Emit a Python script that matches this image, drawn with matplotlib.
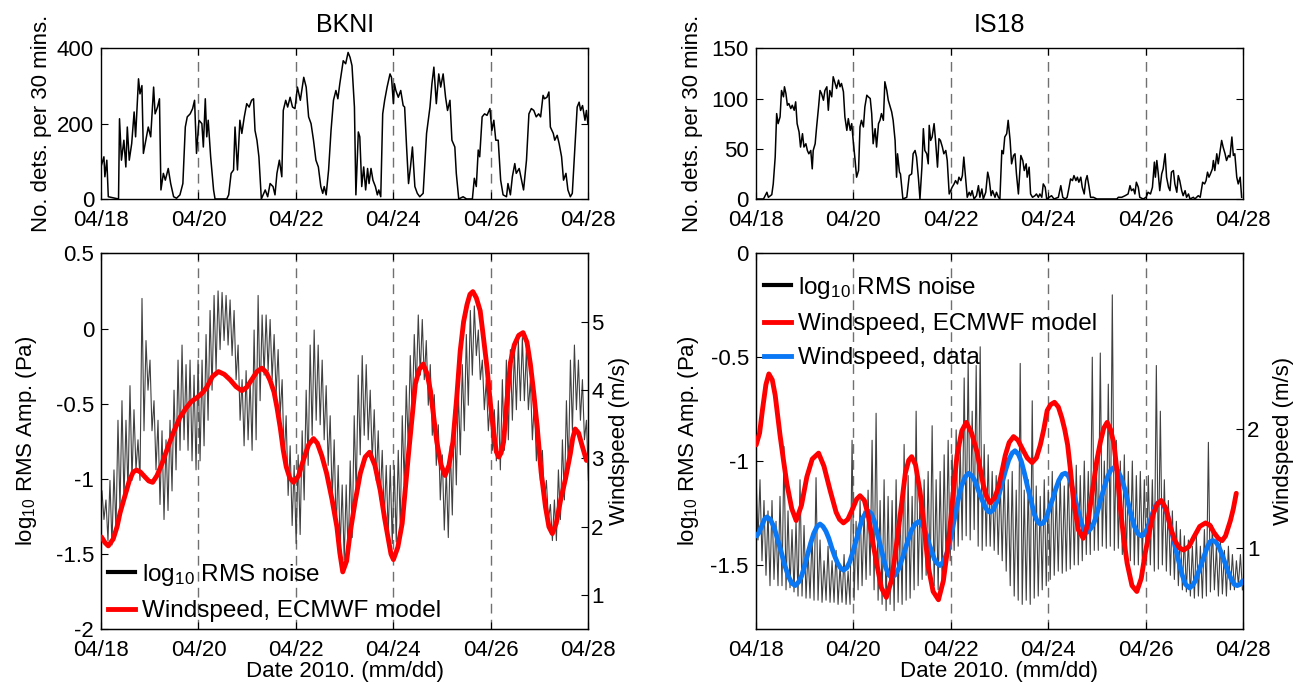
import numpy as np
import matplotlib
matplotlib.use('Agg')
import matplotlib.pyplot as plt
from matplotlib.lines import Line2D

plt.rcParams['font.family'] = ['Liberation Sans', 'DejaVu Sans']
plt.rcParams['axes.unicode_minus'] = False
plt.rcParams['font.size'] = 16
plt.rcParams['mathtext.default'] = 'regular'

# ---------------- axis categories ----------------
date_ticks = [0, 2, 4, 6, 8, 10]          # days since 2010-04-18
date_labels = ['04/18', '04/20', '04/22', '04/24', '04/26', '04/28']
dashed_days = [2, 4, 6, 8]
titles = ['BKNI', 'IS18']

# ---------------- BKNI detections per 30 min (days, count) ----------------
bk_det_t = [0.01, 0.06, 0.08, 0.12, 0.15, 0.36, 0.38, 0.42, 0.47, 0.51, 0.54, 0.58, 0.63, 0.68, 0.71,
            0.77, 0.80, 0.84, 0.87, 0.92, 0.97, 1.02, 1.08, 1.11, 1.16, 1.20, 1.23, 1.28, 1.32, 1.38,
            1.43, 1.49, 1.55, 1.62, 1.68, 1.73, 1.77, 1.83, 1.88, 1.92, 1.96, 2.01, 2.07, 2.10, 2.14,
            2.17, 2.20, 2.25, 2.31, 2.34, 2.58, 2.62, 2.67, 2.72, 2.75, 2.80, 2.85, 2.89, 2.94, 2.99,
            3.04, 3.09, 3.13, 3.16, 3.20, 3.24, 3.29, 3.37, 3.42, 3.47, 3.53, 3.57, 3.61, 3.66, 3.71,
            3.74, 3.79, 3.83, 3.88, 3.93, 3.98, 4.03, 4.09, 4.16, 4.21, 4.26, 4.31, 4.36, 4.41, 4.46,
            4.51, 4.55, 4.58, 4.62, 4.67, 4.72, 4.77, 4.82, 4.86,
            4.90, 4.97, 5.02, 5.07, 5.11, 5.15, 5.20, 5.23, 5.28, 5.31, 5.35, 5.39, 5.43, 5.47, 5.50,
            5.54, 5.58, 5.63, 5.67, 5.70, 5.74, 5.78, 5.82, 5.87, 5.93, 5.96, 6.00, 6.02, 6.05, 6.10,
            6.15, 6.20, 6.23, 6.27, 6.31, 6.35, 6.39, 6.44, 6.49, 6.54, 6.61, 6.68, 6.75, 6.79, 6.83,
            6.88, 6.93, 6.97, 7.02, 7.07, 7.11, 7.16, 7.20, 7.26, 7.29, 7.34, 7.43, 7.50, 7.62, 7.66,
            7.70, 7.74, 7.77, 7.82, 7.87, 7.92, 7.98, 8.02, 8.06, 8.10, 8.15, 8.20, 8.25, 8.32, 8.35,
            8.40, 8.44, 8.49, 8.52, 8.58, 8.63, 8.67, 8.73, 8.78, 8.83, 8.88, 8.93, 8.98, 9.02, 9.07,
            9.10, 9.15, 9.19, 9.22, 9.28, 9.31, 9.36, 9.40, 9.45, 9.49, 9.54, 9.58, 9.63, 9.67, 9.72,
            9.77, 9.81, 9.84, 9.88, 9.93, 9.96, 9.99]
bk_det_n = [90, 112, 59, 103, 6, 0, 213, 103, 156, 85, 191, 103, 147, 231, 165,
            319, 279, 301, 121, 156, 191, 165, 297, 226, 244, 266, 24, 68, 50, 81,
            41, 6, 2, 11, 41, 191, 218, 226, 240, 262, 121, 209, 200, 138, 266,
            165, 209, 112, 24, 0, 0, 11, 68, 77, 191, 77, 209, 174, 218, 253,
            244, 262, 266, 182, 156, 112, 0, 24, 6, 41, 33, 11, 68, 103, 59,
            235, 262, 244, 270, 244, 240, 297, 262, 323, 297, 218, 200, 156, 103, 85,
            33, 15, 33, 11, 77, 182, 262, 288, 266,
            306, 367, 359, 389, 376, 354, 244, 11, 178, 165, 33, 85, 24, 81, 41,
            81, 50, 33, 11, 24, 6, 226, 262, 297, 332, 323, 253, 306, 288, 270,
            288, 248, 244, 138, 41, 85, 138, 33, 15, 6, 15, 174, 244, 306, 350,
            253, 332, 297, 332, 270, 235, 262, 156, 138, 68, 0, 6, 0, 0, 55,
            33, 130, 112, 218, 226, 222, 240, 182, 209, 156, 156, 50, 11, 6, 41,
            11, 59, 94, 68, 81, 50, 24, 103, 226, 240, 235, 218, 226, 218, 275,
            266, 270, 284, 191, 174, 156, 169, 147, 112, 50, 68, 24, 6, 15, 130,
            244, 257, 235, 248, 209, 235, 200]

# ---------------- IS18 detections per 30 min (days, count) ----------------
is_det_t = [0.02, 0.16, 0.23, 0.26, 0.33, 0.36, 0.40, 0.43, 0.46, 0.50, 0.53, 0.57, 0.59, 0.62, 0.65,
            0.68, 0.72, 0.75, 0.79, 0.82, 0.85, 0.89, 0.92, 0.96, 0.99, 1.03, 1.06, 1.09, 1.13, 1.16,
            1.18, 1.22, 1.25, 1.29, 1.32, 1.35, 1.39, 1.42, 1.46, 1.49, 1.52, 1.56, 1.59, 1.63, 1.66,
            1.70, 1.73, 1.76, 1.80, 1.83, 1.87, 1.90, 1.94, 1.97, 2.00, 2.04, 2.07, 2.11, 2.14, 2.17,
            2.21, 2.24, 2.28, 2.31, 2.35, 2.38, 2.41, 2.45, 2.48, 2.52, 2.55, 2.58, 2.62, 2.65, 2.69,
            2.72, 2.76, 2.79, 2.82, 2.86, 2.89, 2.91, 2.95, 2.97, 3.02, 3.10, 3.15, 3.20, 3.23, 3.27,
            3.30, 3.34, 3.37, 3.41, 3.44, 3.47, 3.51, 3.54, 3.56, 3.59, 3.62, 3.66, 3.69, 3.73, 3.76,
            3.79, 3.83, 3.86, 3.90, 3.93, 3.97, 4.00, 4.03, 4.07, 4.10, 4.14, 4.17, 4.21, 4.24, 4.27,
            4.31, 4.34, 4.38, 4.41, 4.44, 4.48, 4.53, 4.57, 4.60, 4.64, 4.67, 4.72, 4.76, 4.79, 4.83,
            4.86, 4.91, 4.94, 4.98,
            5.01, 5.05, 5.08, 5.11, 5.15, 5.18, 5.22, 5.25, 5.29, 5.32, 5.35, 5.39, 5.42, 5.44, 5.48,
            5.51, 5.55, 5.57, 5.61, 5.64, 5.68, 5.73, 5.76, 5.80, 5.83, 5.87, 5.90, 5.94, 5.97, 6.07,
            6.12, 6.21, 6.26, 6.30, 6.35, 6.39, 6.43, 6.46, 6.50, 6.53, 6.57, 6.60, 6.63, 6.67, 6.70,
            6.74, 6.77, 6.80, 6.84, 6.87, 6.93, 7.00, 7.41, 7.44, 7.51, 7.58, 7.64, 7.68, 7.71, 7.75,
            7.78, 7.81, 7.85, 7.88, 7.95, 8.01, 8.05, 8.10, 8.14, 8.18, 8.20, 8.23, 8.26, 8.29, 8.33,
            8.36, 8.40, 8.43, 8.47, 8.50, 8.53, 8.57, 8.60, 8.64, 8.67, 8.70, 8.74, 8.77, 8.81, 8.84,
            8.88, 8.91, 8.98, 9.01, 9.08, 9.12, 9.17, 9.21, 9.24, 9.27, 9.30, 9.33, 9.37, 9.39, 9.42,
            9.46, 9.49, 9.53, 9.56, 9.59, 9.63, 9.66, 9.70, 9.73, 9.77, 9.80, 9.83, 9.87, 9.90, 9.94,
            9.97]
is_det_n = [0, 0, 6.7, 1.7, 4.3, 15, 41.7, 85, 75, 81.7, 108, 101.7, 111.7, 105, 93.3,
            95, 90, 93.3, 88.3, 96.7, 75, 66.7, 51.7, 65, 51.7, 55, 48.3, 45, 48.3, 30,
            48.3, 55, 71.7, 91.7, 108, 105, 98.3, 108, 111.7, 88.3, 108, 101.7, 121.7, 115, 110,
            118.3, 111.7, 115, 106.7, 81.7, 68.3, 80, 68.3, 75, 58.3, 38.3, 21.7, 28.3, 71.7, 78.3,
            71.7, 91.7, 103.3, 101.7, 100, 85, 55, 70, 51.7, 75, 78.3, 85, 78.3, 116.7, 108,
            98.3, 91.7, 86.7, 78.3, 58.3, 21.7, 45, 26.7, 25, 0, 1.7, 23.3, 25, 45, 48.3,
            41.7, 20, 0, 31.7, 70, 48.3, 45, 35, 73.3, 58.3, 61.7, 75, 58.3, 31.7, 60,
            58.3, 51.7, 45, 48.3, 38.3, 5, 8.3, 11.7, 15, 18.3, 15, 21.7, 18.3, 23.3, 41.7,
            18.3, 1.7, 6.7, 3.3, 8.3, 0, 3.3, 13.3, 1.7, 10, 0, 6.7, 26.7, 20, 3.3,
            8.3, 1.7, 6.7, 1.7,
            0, 48.3, 45, 61.7, 65, 78.3, 58.3, 35, 43.3, 45, 25, 5, 28.3, 43.3, 38.3,
            28.3, 35, 21.7, 31.7, 5, 1.7, 3.3, 5, 1.7, 5, 1.7, 15, 11.7, 0, 3.3,
            0, 1.7, 13.3, 1.7, 0, 1.7, 11.7, 20, 18.3, 23.3, 18.3, 21.7, 16.7, 21.7, 11.7,
            5, 18.3, 23.3, 11.7, 1.7, 1.7, 0, 0, 1.7, 1.7, 3.3, 5, 13.3, 8.3, 10,
            5, 16.7, 11.7, 1.7, 0, 1.7, 6.7, 5, 11.7, 36.7, 21.7, 38.3, 25, 8.3, 25,
            30, 45, 21.7, 11.7, 8.3, 26.7, 28.3, 15, 6.7, 23.3, 18.3, 8.3, 3.3, 8.3, 1.7,
            5, 0, 1.7, 0, 3.3, 1.7, 16.7, 15, 18.3, 26.7, 21.7, 25, 30, 38.3, 28.3,
            45, 35, 48.3, 58.3, 51.7, 45, 38.3, 43.3, 41.7, 61.7, 43.3, 45, 21.7, 15, 21.7,
            1.7]

# ---------------- BKNI log10 RMS noise: upper / lower envelope, ~2-hourly ----------------
bk_noise_hi = [-1.08, -1.14, -1.01, -0.94, -0.61, -0.48, -0.61, -0.38, -0.54, -0.74,
               0.20, -0.08, -0.21, -0.48, -0.61, -0.68, -0.74, -0.61, -0.41, -0.21,
               -0.11, -0.24, -0.21, -0.31, -0.21, -0.21, -0.04, 0.12, 0.22, 0.25,
               0.24, 0.22, 0.19, 0.12, -0.11, -0.34, -0.28, -0.34, -0.01, 0.22,
               0.09, 0.09, 0.06, -0.04, -0.14, -0.34, -0.58, -0.78, -0.91, -0.84,
               -0.68, -0.41, -0.11, -0.01, -0.11, -0.21, -0.38, -0.58, -0.74, -0.91,
               -1.04, -1.04, -0.88, -0.58, -0.31, -0.18, -0.24, -0.41, -0.54, -0.68,
               -0.81, -0.91, -0.91, -0.91, -0.81, -0.58, -0.38, -0.18, -0.04, 0.09,
               0.06, -0.08, -0.24, -0.44, -0.64, -0.84, -0.94, -0.78, -0.54, -0.41,
               -0.24, -0.04, 0.12, 0.15, -0.01, -0.21, -0.34, -0.48, -0.54, -0.48,
               -0.34, -0.21, -0.14, -0.14, -0.08, -0.06, -0.14, -0.34, -0.48, -0.61,
               -0.81, -1.01, -1.17, -1.14, -0.94, -0.74, -0.48, -0.21, -0.11, -0.21,
               -0.34, -0.61]
bk_noise_lo = [-1.27, -1.41, -1.44, -1.34, -1.21, -1.14, -1.08, -1.01, -0.94, -1.01,
               -0.68, -0.41, -0.68, -0.94, -1.17, -1.27, -1.21, -1.08, -0.94, -0.81,
               -0.74, -0.81, -0.88, -0.94, -0.88, -0.78, -0.61, -0.41, -0.28, -0.14,
               -0.08, -0.11, -0.18, -0.34, -0.61, -0.78, -0.74, -0.81, -0.74, -0.48,
               -0.31, -0.28, -0.34, -0.44, -0.58, -0.88, -1.11, -1.31, -1.43, -1.37,
               -1.14, -0.91, -0.71, -0.61, -0.64, -0.74, -0.91, -1.14, -1.34, -1.47,
               -1.54, -1.53, -1.39, -1.11, -0.84, -0.71, -0.74, -0.88, -1.01, -1.14,
               -1.27, -1.37, -1.43, -1.42, -1.31, -1.04, -0.78, -0.58, -0.41, -0.31,
               -0.34, -0.51, -0.71, -0.91, -1.14, -1.34, -1.39, -1.24, -1.04, -0.84,
               -0.68, -0.51, -0.31, -0.18, -0.34, -0.54, -0.68, -0.81, -0.88, -0.94,
               -0.81, -0.74, -0.61, -0.54, -0.48, -0.48, -0.54, -0.74, -0.88, -1.01,
               -1.14, -1.27, -1.41, -1.41, -1.27, -1.14, -0.94, -0.68, -0.54, -0.61,
               -0.74, -1.01]

# ---------------- IS18 log10 RMS noise: upper / lower envelope, ~2-hourly ----------------
is_noise_hi = [-1.05, -1.09, -1.19, -1.24, -1.19, -1.29, -1.17, -0.93, -1.24, -1.33,
               -1.29, -1.09, -1.31, -1.43, -1.36, -1.08, -1.38, -1.48, -1.41, -1.48,
               -1.43, -1.50, -1.45, -1.53, -0.90, -1.29, -1.19, -1.24, -1.14, -0.90,
               -0.77, -1.19, -1.09, -1.17, -1.19, -1.09, -1.24, -0.92, -1.07, -1.17,
               -0.76, -1.14, -1.09, -1.05, -0.83, -1.09, -1.05, -0.97, -0.90, -0.97,
               -0.85, -0.92, -0.60, -0.52, -0.76, -0.54, -0.45, -0.92, -0.97, -1.05,
               -1.07, -1.09, -1.05, -1.09, -1.05, -1.14, -0.53, -1.14, -1.09, -0.71,
               -1.12, -1.17, -1.09, -1.14, -1.05, -1.14, -1.07, -1.12, -1.05, -1.09,
               -1.02, -1.07, -1.00, -1.05, -0.50, -1.02, -0.48, -1.00, -0.63, -0.20,
               -0.90, -1.00, -0.97, -1.05, -1.00, -1.07, -1.05, -1.09, -1.07, -1.09,
               -0.54, -0.76, -1.09, -1.19, -1.24, -1.29, -1.33, -1.36, -1.38, -1.41,
               -1.36, -1.41, -1.33, -0.91, -1.31, -1.41, -1.38, -1.43, -1.41, -1.45,
               -1.48, -1.45]
is_noise_lo = [-1.38, -1.48, -1.55, -1.60, -1.57, -1.60, -1.60, -1.62, -1.61, -1.63,
               -1.65, -1.65, -1.66, -1.66, -1.67, -1.67, -1.68, -1.67, -1.68, -1.68,
               -1.69, -1.68, -1.69, -1.69, -1.67, -1.62, -1.60, -1.57, -1.55, -1.62,
               -1.67, -1.69, -1.72, -1.69, -1.72, -1.68, -1.69, -1.67, -1.66, -1.62,
               -1.60, -1.57, -1.55, -1.57, -1.60, -1.62, -1.60, -1.53, -1.48, -1.43,
               -1.41, -1.38, -1.36, -1.38, -1.33, -1.41, -1.43, -1.41, -1.41, -1.43,
               -1.45, -1.48, -1.53, -1.60, -1.65, -1.67, -1.69, -1.67, -1.69, -1.66,
               -1.65, -1.62, -1.60, -1.57, -1.55, -1.53, -1.54, -1.53, -1.52, -1.50,
               -1.50, -1.48, -1.45, -1.45, -1.43, -1.43, -1.41, -1.42, -1.41, -1.43,
               -1.42, -1.45, -1.48, -1.48, -1.50, -1.50, -1.48, -1.48, -1.50, -1.53,
               -1.52, -1.50, -1.53, -1.55, -1.57, -1.60, -1.62, -1.63, -1.65, -1.66,
               -1.65, -1.66, -1.65, -1.63, -1.62, -1.65, -1.64, -1.65, -1.62, -1.62,
               -1.60, -1.62]

# ---------------- Windspeed, ECMWF model (days, m/s) ----------------
bk_wind_t = [0.01, 0.08, 0.15, 0.25, 0.33, 0.39, 0.47, 0.58, 0.66, 0.73, 0.81, 0.90, 0.98, 1.06,
             1.15, 1.25, 1.35, 1.48, 1.62, 1.75, 1.85, 1.97, 2.07, 2.17, 2.29, 2.41, 2.53, 2.65,
             2.77, 2.89, 2.99, 3.10, 3.20, 3.30, 3.39, 3.47, 3.55, 3.61, 3.68, 3.74, 3.80, 3.87,
             3.95, 4.05, 4.15, 4.26, 4.36, 4.44, 4.53, 4.63, 4.74, 4.84, 4.90, 4.96, 5.04, 5.11,
             5.21, 5.32, 5.42, 5.51, 5.62, 5.73, 5.82, 5.90, 5.95, 6.00, 6.09, 6.18, 6.31, 6.45,
             6.53, 6.61, 6.69, 6.76, 6.89, 6.98, 7.06, 7.14, 7.22, 7.30, 7.37, 7.44, 7.51, 7.57,
             7.63, 7.70, 7.78, 7.85, 7.92, 7.99, 8.06, 8.11, 8.16, 8.21, 8.26, 8.33, 8.40, 8.48,
             8.57, 8.66, 8.74, 8.81, 8.88, 8.95, 9.03, 9.12, 9.19, 9.26, 9.34, 9.43, 9.53, 9.63,
             9.68, 9.73, 9.80, 9.87, 9.96]
bk_wind_v = [1.85, 1.77, 1.72, 1.82, 2.00, 2.20, 2.40, 2.67, 2.80, 2.83, 2.80, 2.73, 2.67, 2.65,
             2.75, 2.92, 3.12, 3.37, 3.60, 3.74, 3.83, 3.89, 3.95, 4.04, 4.20, 4.27, 4.23, 4.15,
             4.05, 3.99, 4.04, 4.16, 4.27, 4.32, 4.26, 4.14, 3.97, 3.75, 3.44, 3.12, 2.88, 2.72,
             2.65, 2.74, 2.97, 3.20, 3.29, 3.22, 3.04, 2.78, 2.40, 2.00, 1.62, 1.34, 1.50, 1.90,
             2.35, 2.78, 3.02, 3.09, 2.90, 2.53, 2.12, 1.80, 1.60, 1.52, 1.70, 2.05, 3.07, 4.09,
             4.30, 4.38, 4.24, 3.99, 3.24, 2.90, 2.75, 2.90, 3.24, 3.90, 4.57, 5.00, 5.25, 5.40,
             5.44, 5.35, 5.16, 4.75, 4.33, 3.80, 3.36, 3.10, 3.02, 3.08, 3.24, 3.85, 4.40, 4.66,
             4.80, 4.84, 4.70, 4.38, 3.95, 3.46, 2.80, 2.29, 2.00, 1.90, 2.05, 2.39, 2.70, 3.07,
             3.30, 3.43, 3.37, 3.19, 2.97]

is_wind_t = [0.01, 0.08, 0.14, 0.21, 0.27, 0.34, 0.40, 0.50, 0.57, 0.64, 0.74, 0.83, 0.94, 1.05,
             1.16, 1.29, 1.40, 1.53, 1.65, 1.72, 1.80, 1.89, 2.00, 2.07, 2.14, 2.23, 2.31, 2.40,
             2.49, 2.58, 2.68, 2.79, 2.90, 2.99, 3.07, 3.14, 3.20, 3.28, 3.37, 3.45, 3.54, 3.64,
             3.75, 3.85, 3.96, 4.05, 4.13, 4.23, 4.32, 4.43, 4.54, 4.67, 4.74, 4.81, 4.90, 4.98,
             5.05, 5.12, 5.20, 5.29, 5.38, 5.48, 5.57, 5.67, 5.76, 5.84, 5.91, 5.98, 6.05, 6.13,
             6.21, 6.28, 6.34, 6.40, 6.46, 6.52, 6.62, 6.72, 6.80, 6.86, 6.93, 7.00, 7.07, 7.14,
             7.21, 7.28, 7.35, 7.42, 7.48, 7.55, 7.62, 7.72, 7.82, 7.91, 7.99, 8.08, 8.16, 8.24,
             8.32, 8.42, 8.51, 8.60, 8.69, 8.78, 8.89, 8.99, 9.11, 9.23, 9.32, 9.40, 9.49, 9.57,
             9.64, 9.74, 9.80, 9.86]
is_wind_v = [1.87, 1.97, 2.17, 2.38, 2.47, 2.42, 2.29, 1.95, 1.74, 1.54, 1.33, 1.23, 1.36, 1.60,
             1.75, 1.80, 1.69, 1.48, 1.30, 1.24, 1.21, 1.24, 1.34, 1.41, 1.44, 1.40, 1.27, 1.05,
             0.85, 0.66, 0.58, 0.73, 1.06, 1.36, 1.63, 1.74, 1.77, 1.70, 1.48, 1.20, 0.84, 0.63,
             0.56, 0.72, 1.06, 1.45, 1.78, 1.99, 2.06, 1.97, 1.81, 1.53, 1.43, 1.38, 1.42, 1.51,
             1.64, 1.78, 1.89, 1.94, 1.91, 1.83, 1.76, 1.72, 1.76, 1.87, 2.00, 2.16, 2.21, 2.23,
             2.19, 2.10, 2.00, 1.87, 1.65, 1.40, 1.15, 1.08, 1.18, 1.34, 1.54, 1.74, 1.89, 2.01,
             2.06, 2.00, 1.88, 1.62, 1.34, 1.08, 0.87, 0.68, 0.63, 0.74, 0.95, 1.14, 1.29, 1.37,
             1.40, 1.33, 1.17, 1.06, 1.00, 0.98, 1.01, 1.09, 1.18, 1.21, 1.19, 1.13, 1.08, 1.06,
             1.10, 1.23, 1.33, 1.46]

# ---------------- Windspeed, data (IS18) ----------------
is_wdat_t = [0.02, 0.07, 0.13, 0.18, 0.23, 0.30, 0.38, 0.45, 0.52, 0.59, 0.67, 0.74, 0.81, 0.88,
             0.94, 1.00, 1.07, 1.13, 1.19, 1.26, 1.32, 1.38, 1.44, 1.50, 1.56, 1.62, 1.68, 1.74,
             1.80, 1.87, 1.93, 1.99, 2.06, 2.12, 2.18, 2.25, 2.31, 2.37, 2.43, 2.49, 2.55, 2.61,
             2.67, 2.73, 2.79, 2.86, 2.93, 3.00, 3.07, 3.13, 3.20, 3.27, 3.34, 3.40, 3.45, 3.51,
             3.56, 3.61, 3.67, 3.72, 3.78, 3.85, 3.93, 4.00, 4.08, 4.15, 4.22, 4.30, 4.37, 4.43,
             4.48, 4.54, 4.59, 4.65, 4.70, 4.76, 4.81, 4.87, 4.94, 5.00, 5.07, 5.13, 5.19, 5.26,
             5.32, 5.39, 5.45, 5.52, 5.58, 5.65, 5.71, 5.78, 5.84, 5.90, 5.97, 6.03, 6.10, 6.16,
             6.22, 6.29, 6.35, 6.41, 6.46, 6.52, 6.58, 6.63, 6.69, 6.74, 6.80, 6.87, 6.94, 7.01,
             7.08, 7.15, 7.22, 7.29, 7.36, 7.43, 7.50, 7.57, 7.64, 7.70, 7.77, 7.84, 7.91, 7.96,
             8.01, 8.06, 8.11, 8.15, 8.20, 8.25, 8.30, 8.37, 8.45, 8.52, 8.60, 8.67, 8.75, 8.82,
             8.90, 8.96, 9.02, 9.08, 9.14, 9.20, 9.26, 9.32, 9.38, 9.44, 9.50, 9.57, 9.63, 9.69,
             9.75, 9.82, 9.88, 9.94, 9.99]
is_wdat_v = [1.10, 1.13, 1.19, 1.24, 1.26, 1.24, 1.17, 1.07, 0.97, 0.86, 0.76, 0.70, 0.68, 0.71,
             0.76, 0.84, 0.95, 1.04, 1.12, 1.18, 1.20, 1.18, 1.14, 1.08, 1.00, 0.93, 0.87, 0.83,
             0.81, 0.83, 0.88, 0.96, 1.06, 1.15, 1.24, 1.29, 1.31, 1.29, 1.23, 1.13, 1.03, 0.93,
             0.83, 0.77, 0.75, 0.77, 0.82, 0.90, 0.99, 1.07, 1.15, 1.20, 1.22, 1.20, 1.17, 1.10,
             1.03, 0.97, 0.90, 0.87, 0.85, 0.88, 0.96, 1.08, 1.25, 1.40, 1.52, 1.60, 1.63, 1.61,
             1.58, 1.52, 1.46, 1.40, 1.35, 1.31, 1.30, 1.32, 1.38, 1.46, 1.57, 1.66, 1.74, 1.80,
             1.82, 1.79, 1.73, 1.62, 1.51, 1.40, 1.29, 1.22, 1.20, 1.21, 1.26, 1.34, 1.42, 1.50,
             1.57, 1.62, 1.63, 1.61, 1.56, 1.47, 1.37, 1.29, 1.20, 1.15, 1.13, 1.16, 1.21, 1.30,
             1.41, 1.51, 1.60, 1.66, 1.68, 1.65, 1.59, 1.50, 1.38, 1.28, 1.18, 1.12, 1.10, 1.11,
             1.14, 1.19, 1.25, 1.30, 1.35, 1.38, 1.39, 1.36, 1.28, 1.16, 1.02, 0.90, 0.77, 0.69,
             0.66, 0.68, 0.72, 0.79, 0.86, 0.93, 1.00, 1.05, 1.06, 1.05, 1.01, 0.94, 0.87, 0.80,
             0.74, 0.69, 0.68, 0.69, 0.72]

# ---------------- styling ----------------
GREY = '#404040'
RED = '#ff0000'
BLUE = '#0a78f5'
DASH_COLOR = '#707070'
FS = 16
LEG_FS = 17.5


def sawtooth(hi, lo, t0, t1):
    """Interleave upper/lower envelope readings into one noisy trace."""
    n = len(hi)
    t = np.linspace(t0, t1, n)
    step = t[1] - t[0]
    tt = np.empty(2 * n)
    vv = np.empty(2 * n)
    tt[0::2] = t
    tt[1::2] = t + step / 2
    vv[0::2] = hi
    vv[1::2] = lo
    return tt, vv


def style_time_axis(ax):
    ax.set_xlim(0, 10)
    ax.set_xticks(date_ticks)
    ax.set_xticklabels(date_labels)
    for d in dashed_days:
        ax.axvline(d, color=DASH_COLOR, lw=1.0, dashes=(7, 4.5), zorder=0)
    ax.tick_params(axis='both', direction='in', length=5, width=0.8, labelsize=FS,
                   top=True)
    ax.tick_params(axis='x', pad=8)
    ax.tick_params(axis='y', pad=5)
    for s in ax.spines.values():
        s.set_linewidth(1.0)


fig = plt.figure(figsize=(12.98, 6.85), dpi=100)

L_left, R_left, W = 0.0778, 0.5822, 0.3755
top_b, top_h = 0.7095, 0.2200
bot_b, bot_h = 0.0813, 0.5489

# ---- top-left: BKNI detections ----
ax = fig.add_axes([L_left, top_b, W, top_h])
ax.plot(bk_det_t, bk_det_n, color='black', lw=1.1)
style_time_axis(ax)
ax.tick_params(axis='y', right=True)
ax.set_ylim(0, 400)
ax.set_yticks([0, 200, 400])
ax.set_ylabel('No. dets. per 30 mins.', fontsize=FS)
ax.yaxis.set_label_coords(-0.100, 0.5)
ax.set_title(titles[0], fontsize=18, pad=12)

# ---- top-right: IS18 detections ----
ax = fig.add_axes([R_left, top_b, W, top_h])
ax.plot(is_det_t, is_det_n, color='black', lw=1.1)
style_time_axis(ax)
ax.tick_params(axis='y', right=True)
ax.set_ylim(0, 150)
ax.set_yticks([0, 50, 100, 150])
ax.set_ylabel('No. dets. per 30 mins.', fontsize=FS)
ax.yaxis.set_label_coords(-0.108, 0.5)
ax.set_title(titles[1], fontsize=18, pad=12)

noise_label = 'log$_{10}$ RMS noise'
ylab_noise = 'log$_{10}$ RMS Amp. (Pa)'

# ---- bottom-left: BKNI noise + model windspeed ----
ax = fig.add_axes([L_left, bot_b, W, bot_h])
t, v = sawtooth(bk_noise_hi, bk_noise_lo, 0.02, 9.96)
ax.plot(t, v, color=GREY, lw=0.8, zorder=2)
style_time_axis(ax)
ax.set_ylim(-2, 0.5)
ax.set_yticks([-2, -1.5, -1, -0.5, 0, 0.5])
ax.set_yticklabels(['-2', '-1.5', '-1', '-0.5', '0', '0.5'])
ax.set_ylabel(ylab_noise, fontsize=FS)
ax.yaxis.set_label_coords(-0.128, 0.5)
ax.set_xlabel('Date 2010. (mm/dd)', fontsize=FS, labelpad=0)
axr = ax.twinx()
axr.plot(bk_wind_t, bk_wind_v, color=RED, lw=3.5, solid_joinstyle='round',
         solid_capstyle='round', zorder=3)
axr.set_ylim(0.5, 6)
axr.set_yticks([1, 2, 3, 4, 5])
axr.tick_params(axis='y', direction='in', length=5, labelsize=FS, pad=2)
axr.set_ylabel('Windspeed (m/s)', fontsize=FS)
axr.yaxis.set_label_coords(1.042, 0.5)
handles = [Line2D([], [], color='black', lw=3.0), Line2D([], [], color=RED, lw=3.5)]
axr.legend(handles, [noise_label, 'Windspeed, ECMWF model'], loc='lower left',
           bbox_to_anchor=(0.0, 0.0), frameon=False, fontsize=LEG_FS, handlelength=1.1,
           handletextpad=0.3, labelspacing=0.5, borderaxespad=0.0, borderpad=0.3)

# ---- bottom-right: IS18 noise + windspeeds ----
ax = fig.add_axes([R_left, bot_b, W, bot_h])
t, v = sawtooth(is_noise_hi, is_noise_lo, 0.006, 9.945)
ax.plot(t, v, color=GREY, lw=0.8, zorder=2)
style_time_axis(ax)
ax.set_ylim(-1.81, 0)
ax.set_yticks([-1.5, -1, -0.5, 0])
ax.set_yticklabels(['-1.5', '-1', '-0.5', '0'])
ax.set_ylabel(ylab_noise, fontsize=FS)
ax.yaxis.set_label_coords(-0.112, 0.5)
ax.set_xlabel('Date 2010. (mm/dd)', fontsize=FS, labelpad=0)
axr = ax.twinx()
axr.plot(is_wdat_t, is_wdat_v, color=BLUE, lw=3.5, solid_joinstyle='round',
         solid_capstyle='round', zorder=3)
axr.plot(is_wind_t, is_wind_v, color=RED, lw=3.5, solid_joinstyle='round',
         solid_capstyle='round', zorder=4)
axr.set_ylim(0.31, 3.49)
axr.set_yticks([1, 2])
axr.tick_params(axis='y', direction='in', length=5, labelsize=FS, pad=3)
axr.set_ylabel('Windspeed (m/s)', fontsize=FS)
axr.yaxis.set_label_coords(1.062, 0.5)
handles = [Line2D([], [], color='black', lw=3.0), Line2D([], [], color=RED, lw=3.5),
           Line2D([], [], color=BLUE, lw=3.5)]
axr.legend(handles, [noise_label, 'Windspeed, ECMWF model', 'Windspeed, data'],
           loc='upper left', bbox_to_anchor=(0.0, 0.965), frameon=False, fontsize=LEG_FS,
           handlelength=1.1, handletextpad=0.3, labelspacing=0.5, borderaxespad=0.0,
           borderpad=0.35)

fig.savefig('out.png', dpi=100)
